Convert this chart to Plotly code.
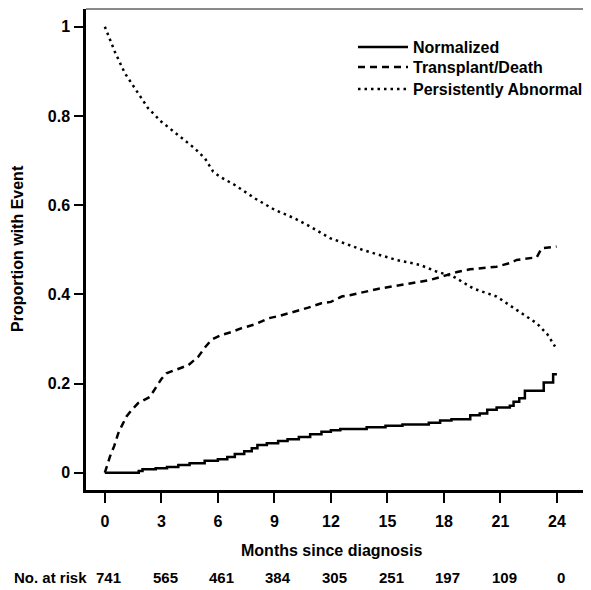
import plotly.graph_objects as go

# ---- data ----
norm_t = [0, 1.8, 2.0, 2.7, 3.3, 3.9, 4.5, 5.3, 6.0, 6.5, 6.9, 7.4, 7.8, 8.1, 8.6, 9.2, 9.7,
          10.3, 10.9, 11.5, 12.0, 12.5, 13.9, 14.9, 15.8, 17.2, 17.8, 18.4, 19.4, 19.9, 20.3,
          20.8, 21.5, 21.7, 22.0, 22.3, 23.3, 23.8, 24.0]
norm_v = [0, 0.004, 0.008, 0.010, 0.013, 0.017, 0.021, 0.027, 0.030, 0.035, 0.042, 0.048,
          0.055, 0.062, 0.066, 0.071, 0.075, 0.080, 0.086, 0.092, 0.095, 0.098, 0.102, 0.105,
          0.108, 0.112, 0.117, 0.120, 0.129, 0.133, 0.141, 0.146, 0.150, 0.159, 0.167, 0.184,
          0.202, 0.221, 0.221]

tx_t = [0, 0.27, 0.5, 0.71, 0.9, 1.15, 1.45, 1.77, 2.39, 2.74, 3.0, 3.27, 3.8, 4.43, 4.96,
        5.3, 5.66, 6.2, 6.7, 7.26, 8.0, 8.67, 9.3, 10.09, 10.8, 11.5, 12.0, 12.57, 13.0, 14.6,
        16.2, 17.26, 18.15, 18.7, 19.38, 20.8, 21.5, 21.86, 22.93, 23.19, 23.98]
tx_v = [0, 0.036, 0.06, 0.088, 0.105, 0.126, 0.142, 0.156, 0.170, 0.193, 0.21, 0.223, 0.232,
        0.241, 0.260, 0.28, 0.298, 0.309, 0.315, 0.324, 0.333, 0.346, 0.352, 0.361, 0.37,
        0.380, 0.383, 0.395, 0.398, 0.413, 0.425, 0.432, 0.443, 0.45, 0.456, 0.462, 0.47,
        0.477, 0.483, 0.503, 0.507]

ab_t = [0, 0.53, 1.06, 1.59, 2.3, 3.0, 3.9, 4.78, 5.31, 5.75, 6.1, 6.9, 7.97, 9.03, 10.09,
        10.98, 11.95, 12.48, 13.72, 15.49, 16.73, 17.6, 18.5, 19.56, 20.8, 21.86, 22.93, 23.5,
        23.9]
ab_v = [1.0, 0.944, 0.896, 0.862, 0.817, 0.787, 0.757, 0.727, 0.705, 0.675, 0.664, 0.645,
        0.615, 0.589, 0.570, 0.550, 0.526, 0.518, 0.499, 0.477, 0.466, 0.451, 0.440, 0.413,
        0.395, 0.365, 0.335, 0.31, 0.283]

x_ticks = [0, 3, 6, 9, 12, 15, 18, 21, 24]
y_ticks = [0, 0.2, 0.4, 0.6, 0.8, 1.0]
y_tick_text = ["0", "0.2", "0.4", "0.6", "0.8", "1"]
at_risk = [741, 565, 461, 384, 305, 251, 197, 109, 0]

FONT = "Liberation Sans, Arial, sans-serif"
OFF = 8                     # page body margin in the browser
W, H = 591 - OFF, 590 - OFF
ML, MR, MT, MB = 86 - OFF, 0, 1, 100
PW, PH = W - ML - MR, H - MT - MB


def px_x(p):
    """screen pixel x -> paper fraction"""
    return (p - OFF - ML) / PW


def px_y(p):
    """screen pixel y -> paper fraction"""
    return (H - MB - (p - OFF)) / PH


def bold(size):
    return dict(family=FONT, size=size, color="black", weight="bold")


fig = go.Figure()
fig.add_trace(go.Scatter(x=norm_t, y=norm_v, mode="lines", name="Normalized",
                         legend="legend",
                         line=dict(color="black", width=2.5, shape="hv")))
fig.add_trace(go.Scatter(x=tx_t, y=tx_v, mode="lines", name="Transplant/Death",
                         legend="legend2",
                         line=dict(color="black", width=2.5, dash="7px,5px")))
fig.add_trace(go.Scatter(x=ab_t, y=ab_v, mode="lines", name="Persistently Abnormal",
                         legend="legend3",
                         line=dict(color="black", width=2.5, dash="2.5px,4px")))

annotations = [
    dict(text="Months since diagnosis", xref="paper", yref="paper", x=px_x(331), y=px_y(550),
         xanchor="center", yanchor="middle", showarrow=False, font=bold(16)),
    dict(text="Proportion with Event", xref="paper", yref="paper", x=px_x(17), y=px_y(249),
         xanchor="center", yanchor="middle", textangle=-90, showarrow=False, font=bold(16)),
    dict(text="No. at risk", xref="paper", yref="paper", x=px_x(89), y=px_y(577),
         xanchor="right", yanchor="middle", showarrow=False, font=bold(15)),
]
for t, n in zip(x_ticks, at_risk):
    annotations.append(dict(text=str(n), xref="x", yref="paper", x=t, y=px_y(577),
                            xanchor="center", yanchor="middle", xshift=4,
                            showarrow=False, font=bold(15)))


def legend_at(row_y):
    return dict(x=px_x(353), y=px_y(row_y), xanchor="left", yanchor="middle",
                bgcolor="rgba(0,0,0,0)", borderwidth=0, itemwidth=50, font=bold(16))


fig.update_layout(
    width=W, height=H,
    margin=dict(l=ML, r=MR, t=MT, b=MB, pad=0, autoexpand=False),
    paper_bgcolor="white", plot_bgcolor="white",
    font=bold(16),
    showlegend=True,
    legend=legend_at(47),
    legend2=legend_at(67),
    legend3=legend_at(89),
    xaxis=dict(range=[-1.0, (591 - 105) / 18.83], tickvals=x_ticks, ticks="outside",
               ticklen=10, tickwidth=2, tickcolor="black", showgrid=False, zeroline=False,
               showline=True, linecolor="black", linewidth=2.5, ticklabelstandoff=5,
               automargin=False, tickfont=bold(16)),
    yaxis=dict(range=[-0.0388, 1.0397], tickvals=y_ticks, ticktext=y_tick_text,
               ticks="outside", ticklen=9, tickwidth=2, tickcolor="black", showgrid=False,
               zeroline=False, showline=True, linecolor="black", linewidth=2.5,
               ticklabelstandoff=1, automargin=False, tickfont=bold(16)),
    shapes=[dict(type="line", xref="paper", yref="paper", x0=0, x1=1, y0=1, y1=1,
                 line=dict(color="#8a8a8a", width=2))],
    annotations=annotations,
)

fig.write_html("out.html")
